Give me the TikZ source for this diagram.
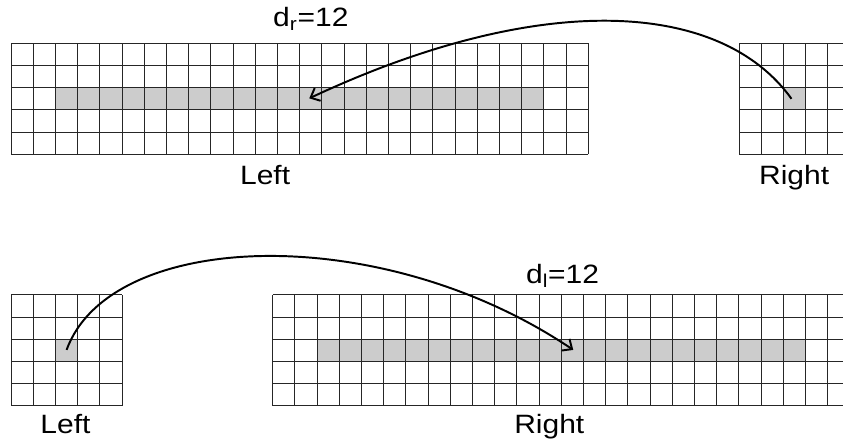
\documentclass[tikz,border=0pt]{standalone}
\usepackage{fontspec}
\setmainfont{Liberation Sans}[FakeStretch=1.13]
\usetikzlibrary{arrows.meta}

\begin{document}
\begin{tikzpicture}[x=0.5cm, y=0.5cm,
  slots/.style={draw=black!85, line width=0.68pt, step=0.5cm},
  hit/.style={fill=black!20},
  lbl/.style={font=\fontsize{17}{20}\selectfont, anchor=base, inner sep=0pt},
  jump/.style={-{Straight Barb[length=5pt,width=9pt]}, line width=1.25pt}]
  \useasboundingbox (0,0) rectangle (37.97,19.95);
  % top: right block copied back into left block
  \fill[hit] (2.5,15) rectangle (24.5,16);
  \draw[slots, shift={(0.5,13)}] (0,0) grid (26,5);
  \fill[hit] (35.29,15) rectangle (36.29,16);
  \draw[slots, shift={(33.29,13)}] (0,0) grid (5,5);
  \coordinate (rsrc) at (35.65,15.5);
  \coordinate (ldst) at (13.93,15.52);
  \draw[jump] (rsrc) .. controls +(-3.2,4.46) and +(10.4,4.87) .. (ldst);
  \node[lbl] (dr) at (14,18.75) {d\textsubscript{r}=12};
  \node[lbl] (lname1) at (11.94,11.62) {Left};
  \node[lbl] (rname1) at (35.77,11.62) {Right};
  % bottom: left block copied forward into right block
  \fill[hit] (2.5,3.67) rectangle (3.5,4.67);
  \draw[slots, shift={(0.5,1.67)}] (0,0) grid (5,5);
  \fill[hit] (14.28,3.67) rectangle (36.28,4.67);
  \draw[slots, shift={(12.28,1.67)}] (0,0) grid (26,5);
  \coordinate (lsrc) at (3,4.19);
  \coordinate (rdst) at (25.82,4.19);
  \draw[jump] (lsrc) .. controls +(1.96,5.4) and +(-8.7,5.86) .. (rdst);
  \node[lbl] (dl) at (25.34,7.19) {d\textsubscript{l}=12};
  \node[lbl] (lname2) at (2.95,0.44) {Left};
  \node[lbl] (rname2) at (24.74,0.44) {Right};
\end{tikzpicture}
\end{document}
